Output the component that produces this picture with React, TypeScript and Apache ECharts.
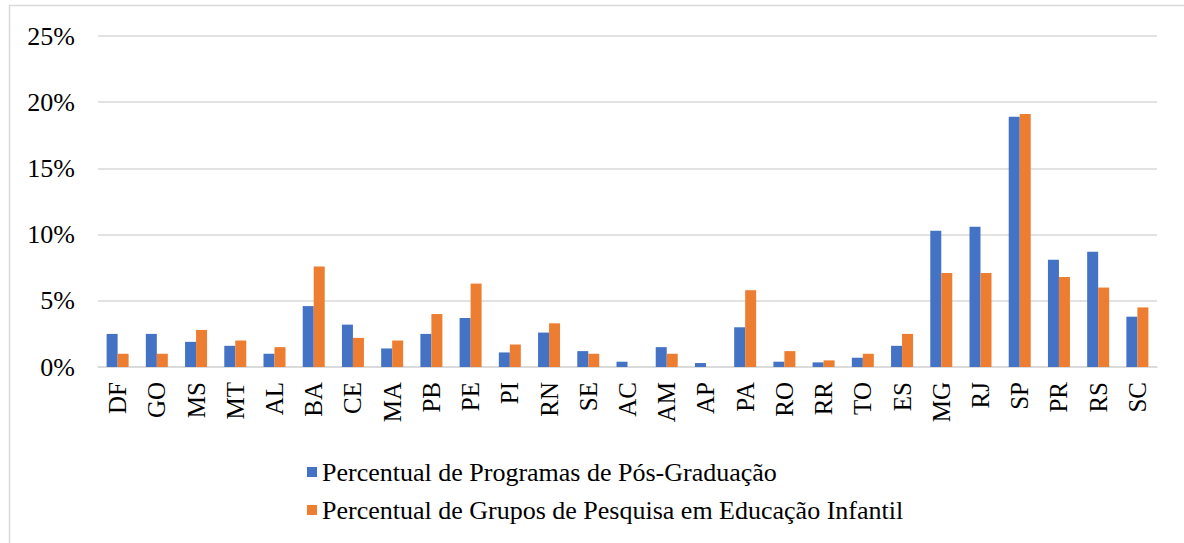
import React, { useEffect, useRef } from "react";
import * as echarts from "echarts";

const categories = ["DF", "GO", "MS", "MT", "AL", "BA", "CE", "MA", "PB", "PE", "PI", "RN", "SE", "AC", "AM", "AP", "PA", "RO", "RR", "TO", "ES", "MG", "RJ", "SP", "PR", "RS", "SC"];
const programas = [2.5, 2.5, 1.9, 1.6, 1.0, 4.6, 3.2, 1.4, 2.5, 3.7, 1.1, 2.6, 1.2, 0.4, 1.5, 0.3, 3.0, 0.4, 0.35, 0.7, 1.6, 10.3, 10.6, 18.9, 8.1, 8.7, 3.8];
const grupos = [1.0, 1.0, 2.8, 2.0, 1.5, 7.6, 2.2, 2.0, 4.0, 6.3, 1.7, 3.3, 1.0, 0, 1.0, 0, 5.8, 1.2, 0.5, 1.0, 2.5, 7.1, 7.1, 19.1, 6.8, 6.0, 4.5];
const seriesNames = ["Percentual de Programas de Pós-Graduação", "Percentual de Grupos de Pesquisa em Educação Infantil"];
const yTicks = [0, 5, 10, 15, 20, 25];

const FONT = "Times New Roman";

export default function App() {
  const ref = useRef<HTMLDivElement>(null);
  useEffect(() => {
    if (!ref.current) return;
    const chart = echarts.init(ref.current, null, { renderer: "svg" });
    chart.setOption({
      animation: false,
      backgroundColor: "#fff",
      graphic: [
        {
          type: "rect",
          shape: { x: 9.5, y: 5.5, width: 1180, height: 600 },
          style: { fill: "none", stroke: "#D9D9D9", lineWidth: 1.5 },
          silent: true,
        },
      ],
      grid: { left: 98, right: 27, top: 36, bottom: 176, containLabel: false },
      legend: {
        orient: "vertical",
        left: 302,
        top: 454,
        itemWidth: 10,
        itemHeight: 10,
        itemGap: 12,
        icon: "rect",
        textStyle: { fontFamily: FONT, fontSize: 26, color: "#000" },
        data: seriesNames,
      },
      xAxis: {
        type: "category",
        data: categories,
        axisLine: { lineStyle: { color: "#D9D9D9", width: 1.5 } },
        axisTick: { show: false },
        axisLabel: {
          rotate: 90,
          interval: 0,
          margin: 15,
          fontFamily: FONT,
          fontSize: 25,
          color: "#000",
        },
      },
      yAxis: {
        type: "value",
        min: yTicks[0],
        max: yTicks[yTicks.length - 1],
        interval: 5,
        axisLine: { show: false },
        axisTick: { show: false },
        splitLine: { lineStyle: { color: "#D9D9D9", width: 1.5 } },
        axisLabel: {
          formatter: "{value}%",
          margin: 23,
          fontFamily: FONT,
          fontSize: 26,
          color: "#000",
        },
      },
      series: [
        {
          name: seriesNames[0],
          type: "bar",
          data: programas,
          barWidth: 11,
          barGap: "0%",
          itemStyle: { color: "#4472C4" },
        },
        {
          name: seriesNames[1],
          type: "bar",
          data: grupos,
          barWidth: 11,
          barGap: "0%",
          itemStyle: { color: "#ED7D31" },
        },
      ],
    });
    return () => chart.dispose();
  }, []);
  return (
    <div
      ref={ref}
      style={{ position: "fixed", left: 0, top: 0, width: 1184, height: 543 }}
    />
  );
}
